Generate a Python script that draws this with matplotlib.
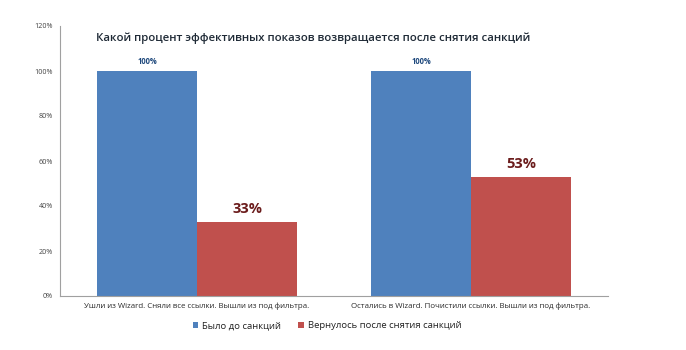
import matplotlib
matplotlib.use("Agg")
import matplotlib.pyplot as plt
import numpy as np
from matplotlib.ticker import FuncFormatter

plt.rcParams['font.family'] = ['Open Sans', 'DejaVu Sans']

categories = [
    "Ушли из Wizard. Сняли все ссылки. Вышли из под фильтра.",
    "Остались в Wizard. Почистили ссылки. Вышли из под фильтра.",
]
before = [100, 100]
after = [33, 53]
series_names = ["Было до санкций", "Вернулось после снятия санкций"]
title = "Какой процент эффективных показов возвращается после снятия санкций"
yticks = [0, 20, 40, 60, 80, 100, 120]

blue = "#4F81BD"
red = "#C0504D"

fig = plt.figure(figsize=(6.86, 3.5), dpi=100)
ax = fig.add_axes([60 / 686, 1 - 296 / 350, 548 / 686, 270 / 350])

x = np.arange(len(categories))
w = 0.365
b1 = ax.bar(x - w / 2, before, w, color=blue, label=series_names[0])
b2 = ax.bar(x + w / 2, after, w, color=red, label=series_names[1])

for rect, v in zip(b1, before):
    ax.text(rect.get_x() + rect.get_width() / 2, v + 2, f"{v}%",
            ha="center", va="bottom", fontsize=5.5, fontweight="bold",
            color="#1F497D")
for rect, v in zip(b2, after):
    ax.text(rect.get_x() + rect.get_width() / 2, v + 2.5, f"{v}%",
            ha="center", va="bottom", fontsize=10.5, fontweight="bold",
            color="#6B1C1C")

ax.set_xlim(-0.5, 1.5)
ax.set_ylim(0, 120)
ax.set_yticks(yticks)
ax.yaxis.set_major_formatter(FuncFormatter(lambda v, p: f"{int(v)}%"))
ax.set_xticks(x)
ax.set_xticklabels(categories, fontsize=5.7, color="#2A2A2A")
ax.tick_params(axis="y", length=0, labelsize=5.2, labelcolor="#444444", pad=5)
ax.tick_params(axis="x", length=0, pad=5)

for s in ["top", "right"]:
    ax.spines[s].set_visible(False)
for s in ["left", "bottom"]:
    ax.spines[s].set_color("#A0A0A0")
    ax.spines[s].set_linewidth(0.8)

fig.text(313 / 686, 1 - 38 / 350, title, ha="center", va="center",
         fontsize=8.2, fontweight="semibold", color="#1F2A36")

fig.legend(handles=[b1, b2], labels=series_names, loc="center",
           bbox_to_anchor=(327 / 686, 1 - 326 / 350), ncol=2, frameon=False,
           fontsize=6.8, handlelength=0.6, handleheight=0.6,
           handletextpad=0.4, columnspacing=1.8, labelcolor="#222222")

fig.savefig("out.png", dpi=100)
